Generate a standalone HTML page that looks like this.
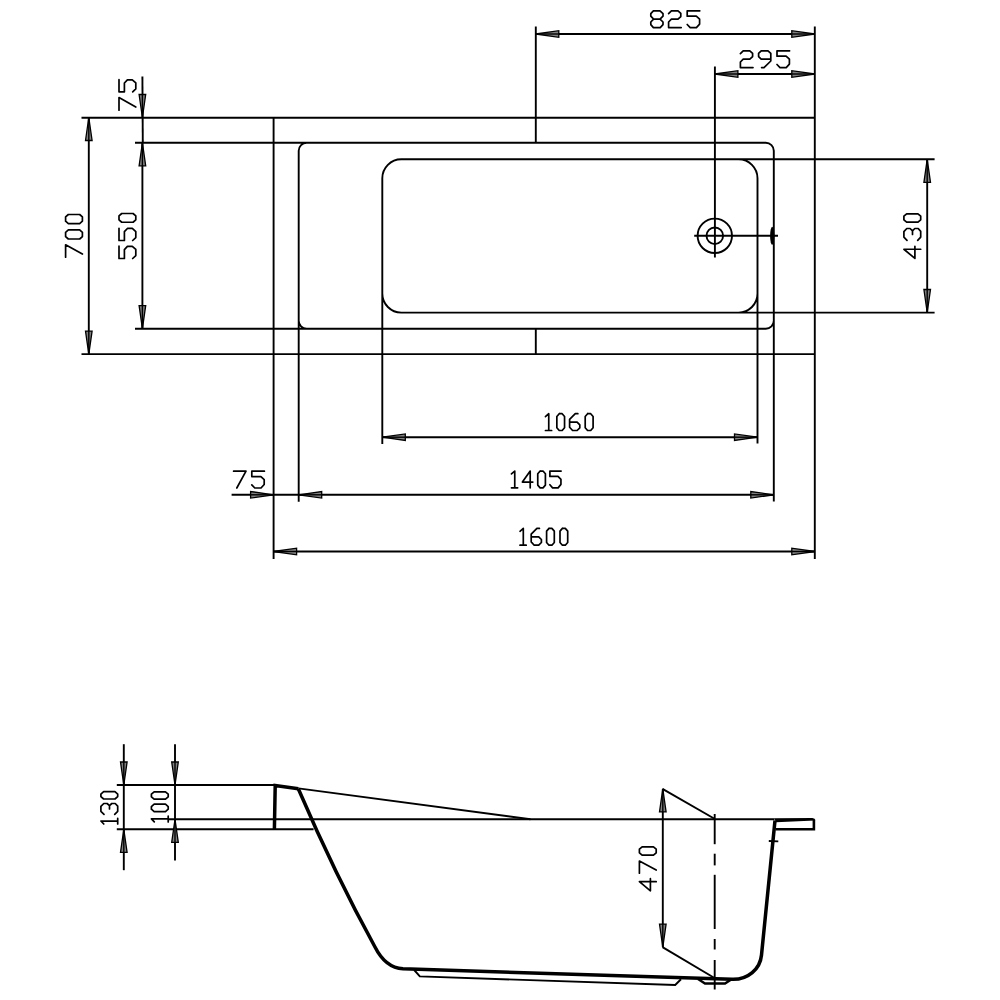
<!DOCTYPE html>
<html><head><meta charset="utf-8"><style>
html,body{margin:0;padding:0;background:#fff;width:1000px;height:1000px;overflow:hidden;font-family:"Liberation Sans",sans-serif;}
svg{display:block}
</style></head><body>
<svg width="1000" height="1000" viewBox="0 0 1000 1000">
<rect width="1000" height="1000" fill="#fff"/>
<line x1="81.5" y1="117.7" x2="814.8" y2="117.7" stroke="#000" stroke-width="1.9"/>
<line x1="81.5" y1="354.1" x2="814.8" y2="354.1" stroke="#000" stroke-width="1.9"/>
<line x1="273.6" y1="117.5" x2="273.6" y2="559" stroke="#000" stroke-width="1.9"/>
<line x1="814.8" y1="26.5" x2="814.8" y2="559" stroke="#000" stroke-width="1.9"/>
<line x1="535.8" y1="26.5" x2="535.8" y2="142.8" stroke="#000" stroke-width="1.9"/>
<line x1="535.8" y1="328.7" x2="535.8" y2="354.1" stroke="#000" stroke-width="1.9"/>
<path d="M135,142.8 H765.8 A8,8 0 0 1 773.8,150.8 V501.4 M298.7,501.8 V150.8 A8,8 0 0 1 306.7,142.8 M135,328.7 H765.8 A8,8 0 0 0 773.8,320.7 M298.7,320.7 A8,8 0 0 0 306.7,328.7" fill="none" stroke="#000" stroke-width="1.9"/>
<path d="M382.3,443.9 V178.3 A19,19 0 0 1 401.3,159.3 H934.6 M738.5,159.3 A19,19 0 0 1 757.5,178.3 V443.5 M382.3,293.6 A19,19 0 0 0 401.3,312.6 H934.6 M757.5,293.6 A19,19 0 0 1 738.5,312.6" fill="none" stroke="#000" stroke-width="1.9"/>
<circle cx="714.8" cy="235.8" r="17.2" fill="none" stroke="#000" stroke-width="1.9"/>
<circle cx="714.8" cy="235.8" r="8.3" fill="none" stroke="#000" stroke-width="1.9"/>
<line x1="694.2" y1="235.8" x2="778" y2="235.8" stroke="#000" stroke-width="1.9"/>
<line x1="714.9" y1="66.5" x2="714.9" y2="257.5" stroke="#000" stroke-width="1.9"/>
<ellipse cx="772.2" cy="235.8" rx="2.1" ry="9" fill="#000"/>
<line x1="535.8" y1="34" x2="814.8" y2="34" stroke="#000" stroke-width="1.9"/>
<polygon points="535.80,34.00 558.80,30.70 558.80,37.30" fill="#808080" stroke="#000" stroke-width="1.3" stroke-linejoin="miter"/><line x1="535.80" y1="34.00" x2="558.80" y2="34.00" stroke="#000" stroke-width="1.4"/>
<polygon points="814.80,34.00 791.80,37.30 791.80,30.70" fill="#808080" stroke="#000" stroke-width="1.3" stroke-linejoin="miter"/><line x1="814.80" y1="34.00" x2="791.80" y2="34.00" stroke="#000" stroke-width="1.4"/>
<line x1="714.9" y1="74" x2="814.8" y2="74" stroke="#000" stroke-width="1.9"/>
<polygon points="714.90,74.00 737.90,70.70 737.90,77.30" fill="#808080" stroke="#000" stroke-width="1.3" stroke-linejoin="miter"/><line x1="714.90" y1="74.00" x2="737.90" y2="74.00" stroke="#000" stroke-width="1.4"/>
<polygon points="814.80,74.00 791.80,77.30 791.80,70.70" fill="#808080" stroke="#000" stroke-width="1.3" stroke-linejoin="miter"/><line x1="814.80" y1="74.00" x2="791.80" y2="74.00" stroke="#000" stroke-width="1.4"/>
<line x1="142.4" y1="76.4" x2="142.8" y2="142.8" stroke="#000" stroke-width="1.9"/>
<polygon points="142.40,117.50 139.10,94.50 145.70,94.50" fill="#808080" stroke="#000" stroke-width="1.3" stroke-linejoin="miter"/><line x1="142.40" y1="117.50" x2="142.40" y2="94.50" stroke="#000" stroke-width="1.4"/>
<line x1="142.4" y1="142.8" x2="142.4" y2="328.7" stroke="#000" stroke-width="1.9"/>
<polygon points="142.40,142.80 145.70,165.80 139.10,165.80" fill="#808080" stroke="#000" stroke-width="1.3" stroke-linejoin="miter"/><line x1="142.40" y1="142.80" x2="142.40" y2="165.80" stroke="#000" stroke-width="1.4"/>
<polygon points="142.40,328.70 139.10,305.70 145.70,305.70" fill="#808080" stroke="#000" stroke-width="1.3" stroke-linejoin="miter"/><line x1="142.40" y1="328.70" x2="142.40" y2="305.70" stroke="#000" stroke-width="1.4"/>
<line x1="88.8" y1="117.5" x2="88.8" y2="354.1" stroke="#000" stroke-width="1.9"/>
<polygon points="88.80,117.50 92.10,140.50 85.50,140.50" fill="#808080" stroke="#000" stroke-width="1.3" stroke-linejoin="miter"/><line x1="88.80" y1="117.50" x2="88.80" y2="140.50" stroke="#000" stroke-width="1.4"/>
<polygon points="88.80,354.10 85.50,331.10 92.10,331.10" fill="#808080" stroke="#000" stroke-width="1.3" stroke-linejoin="miter"/><line x1="88.80" y1="354.10" x2="88.80" y2="331.10" stroke="#000" stroke-width="1.4"/>
<line x1="927.2" y1="159.3" x2="927.2" y2="312.5" stroke="#000" stroke-width="1.9"/>
<polygon points="927.20,159.30 930.50,182.30 923.90,182.30" fill="#808080" stroke="#000" stroke-width="1.3" stroke-linejoin="miter"/><line x1="927.20" y1="159.30" x2="927.20" y2="182.30" stroke="#000" stroke-width="1.4"/>
<polygon points="927.20,312.50 923.90,289.50 930.50,289.50" fill="#808080" stroke="#000" stroke-width="1.3" stroke-linejoin="miter"/><line x1="927.20" y1="312.50" x2="927.20" y2="289.50" stroke="#000" stroke-width="1.4"/>
<line x1="382.3" y1="437.2" x2="757.5" y2="437.2" stroke="#000" stroke-width="1.9"/>
<polygon points="382.30,437.20 405.30,433.90 405.30,440.50" fill="#808080" stroke="#000" stroke-width="1.3" stroke-linejoin="miter"/><line x1="382.30" y1="437.20" x2="405.30" y2="437.20" stroke="#000" stroke-width="1.4"/>
<polygon points="757.50,437.20 734.50,440.50 734.50,433.90" fill="#808080" stroke="#000" stroke-width="1.3" stroke-linejoin="miter"/><line x1="757.50" y1="437.20" x2="734.50" y2="437.20" stroke="#000" stroke-width="1.4"/>
<line x1="231.6" y1="494.8" x2="773.8" y2="494.8" stroke="#000" stroke-width="1.9"/>
<polygon points="298.70,494.80 321.70,491.50 321.70,498.10" fill="#808080" stroke="#000" stroke-width="1.3" stroke-linejoin="miter"/><line x1="298.70" y1="494.80" x2="321.70" y2="494.80" stroke="#000" stroke-width="1.4"/>
<polygon points="773.80,494.80 750.80,498.10 750.80,491.50" fill="#808080" stroke="#000" stroke-width="1.3" stroke-linejoin="miter"/><line x1="773.80" y1="494.80" x2="750.80" y2="494.80" stroke="#000" stroke-width="1.4"/>
<polygon points="273.60,494.80 250.60,498.10 250.60,491.50" fill="#808080" stroke="#000" stroke-width="1.3" stroke-linejoin="miter"/><line x1="273.60" y1="494.80" x2="250.60" y2="494.80" stroke="#000" stroke-width="1.4"/>
<line x1="273.6" y1="551.5" x2="814.8" y2="551.5" stroke="#000" stroke-width="1.9"/>
<polygon points="273.60,551.50 296.60,548.20 296.60,554.80" fill="#808080" stroke="#000" stroke-width="1.3" stroke-linejoin="miter"/><line x1="273.60" y1="551.50" x2="296.60" y2="551.50" stroke="#000" stroke-width="1.4"/>
<polygon points="814.80,551.50 791.80,554.80 791.80,548.20" fill="#808080" stroke="#000" stroke-width="1.3" stroke-linejoin="miter"/><line x1="814.80" y1="551.50" x2="791.80" y2="551.50" stroke="#000" stroke-width="1.4"/>
<path d="M653.40,10.80 L660.00,10.80 L663.00,13.60 L663.00,16.20 L660.00,19.20 L653.60,19.20 L650.80,16.20 L650.80,13.60 L653.40,10.80 M653.60,19.20 L650.80,22.00 L650.80,24.60 L653.40,27.60 L660.20,27.60 L663.00,24.60 L663.00,22.00 L660.00,19.20 M668.60,13.60 L671.40,10.80 L678.00,10.80 L680.80,13.40 L680.80,16.60 L678.00,19.20 L671.40,19.20 L668.60,22.00 L668.60,27.60 L681.20,27.60 M699.80,10.80 L687.20,10.80 L687.20,16.20 L696.30,16.20 L699.60,19.20 L699.60,24.10 L696.40,27.60 L690.20,27.60 L687.20,24.50" fill="none" stroke="#000" stroke-width="1.7" stroke-linejoin="round" stroke-linecap="round"/>
<path d="M740.40,53.60 L743.20,50.80 L749.80,50.80 L752.60,53.40 L752.60,56.60 L749.80,59.20 L743.20,59.20 L740.40,62.00 L740.40,67.60 L753.00,67.60 M770.80,59.20 L761.20,59.20 L758.60,56.60 L758.60,53.40 L761.20,50.80 L768.00,50.80 L770.80,53.40 L770.80,61.00 L764.00,67.60 L761.60,67.60 M789.60,50.80 L777.00,50.80 L777.00,56.20 L786.10,56.20 L789.40,59.20 L789.40,64.10 L786.20,67.60 L780.00,67.60 L777.00,64.50" fill="none" stroke="#000" stroke-width="1.7" stroke-linejoin="round" stroke-linecap="round"/>
<path d="M545.45,416.60 L548.75,413.70 L548.75,430.50 M545.45,430.50 L551.65,430.50 M559.25,413.70 L562.15,413.70 L564.55,416.45 L564.55,427.75 L562.15,430.50 L559.25,430.50 L556.85,427.75 L556.85,416.45 L559.25,413.70 M577.85,413.70 L575.30,413.70 L569.60,419.40 L569.60,427.20 L572.60,430.50 L577.10,430.50 L579.80,427.80 L579.80,424.80 L577.10,422.10 L569.60,422.10 M587.60,413.70 L590.70,413.70 L593.10,416.45 L593.10,427.75 L590.70,430.50 L587.60,430.50 L585.20,427.75 L585.20,416.45 L587.60,413.70" fill="none" stroke="#000" stroke-width="1.7" stroke-linejoin="round" stroke-linecap="round"/>
<path d="M511.45,473.95 L514.75,471.05 L514.75,487.85 M511.45,487.85 L517.65,487.85 M530.20,487.85 L530.20,471.05 L522.40,482.05 L532.80,482.05 M540.15,471.05 L543.00,471.05 L545.40,473.80 L545.40,485.10 L543.00,487.85 L540.15,487.85 L537.75,485.10 L537.75,473.80 L540.15,471.05 M561.11,471.05 L549.90,471.05 L549.90,476.45 L558.00,476.45 L560.94,479.45 L560.94,484.35 L558.09,487.85 L552.57,487.85 L549.90,484.75" fill="none" stroke="#000" stroke-width="1.7" stroke-linejoin="round" stroke-linecap="round"/>
<path d="M520.00,531.30 L523.30,528.40 L523.30,545.20 M520.00,545.20 L526.20,545.20 M539.45,528.40 L536.90,528.40 L531.20,534.10 L531.20,541.90 L534.20,545.20 L538.70,545.20 L541.40,542.50 L541.40,539.50 L538.70,536.80 L531.20,536.80 M549.00,528.40 L551.90,528.40 L554.30,531.15 L554.30,542.45 L551.90,545.20 L549.00,545.20 L546.60,542.45 L546.60,531.15 L549.00,528.40 M562.40,528.40 L565.30,528.40 L567.70,531.15 L567.70,542.45 L565.30,545.20 L562.40,545.20 L560.00,542.45 L560.00,531.15 L562.40,528.40" fill="none" stroke="#000" stroke-width="1.7" stroke-linejoin="round" stroke-linecap="round"/>
<path d="M233.60,471.20 L246.00,471.20 L236.80,488.00 M264.40,471.20 L251.80,471.20 L251.80,476.60 L260.90,476.60 L264.20,479.60 L264.20,484.50 L261.00,488.00 L254.80,488.00 L251.80,484.90" fill="none" stroke="#000" stroke-width="1.7" stroke-linejoin="round" stroke-linecap="round"/>
<path d="M119.00,110.25 L119.00,97.60 L135.80,106.99 M119.00,79.63 L119.00,91.85 L124.40,91.85 L124.40,83.02 L127.40,79.82 L132.30,79.82 L135.80,82.93 L135.80,88.94 L132.70,91.85" fill="none" stroke="#000" stroke-width="1.7" stroke-linejoin="round" stroke-linecap="round"/>
<path d="M119.00,246.15 L119.00,258.50 L124.40,258.50 L124.40,249.58 L127.40,246.35 L132.30,246.35 L135.80,249.48 L135.80,255.56 L132.70,258.50 M119.00,228.28 L119.00,240.50 L124.40,240.50 L124.40,231.67 L127.40,228.47 L132.30,228.47 L135.80,231.58 L135.80,237.59 L132.70,240.50 M119.00,219.85 L119.00,215.90 L121.75,213.50 L133.05,213.50 L135.80,215.90 L135.80,219.85 L133.05,222.25 L121.75,222.25 L119.00,219.85" fill="none" stroke="#000" stroke-width="1.7" stroke-linejoin="round" stroke-linecap="round"/>
<path d="M65.60,257.20 L65.60,244.80 L82.40,254.00 M65.60,236.60 L65.60,232.30 L68.35,229.90 L79.65,229.90 L82.40,232.30 L82.40,236.60 L79.65,239.00 L68.35,239.00 L65.60,236.60 M65.60,221.20 L65.60,216.90 L68.35,214.50 L79.65,214.50 L82.40,216.90 L82.40,221.20 L79.65,223.60 L68.35,223.60 L65.60,221.20" fill="none" stroke="#000" stroke-width="1.7" stroke-linejoin="round" stroke-linecap="round"/>
<path d="M920.70,249.27 L903.90,249.27 L914.90,258.40 L914.90,246.23 M907.00,240.30 L903.90,237.10 L903.90,231.60 L906.80,228.50 L910.10,228.50 L912.50,230.80 L912.50,234.50 M912.50,230.80 L914.80,228.50 L918.20,228.50 L920.70,231.40 L920.70,237.10 L917.70,240.30 M903.90,219.80 L903.90,216.20 L906.65,213.80 L917.95,213.80 L920.70,216.20 L920.70,219.80 L917.95,222.20 L906.65,222.20 L903.90,219.80" fill="none" stroke="#000" stroke-width="1.7" stroke-linejoin="round" stroke-linecap="round"/>
<line x1="116.8" y1="785" x2="276" y2="785" stroke="#000" stroke-width="1.9"/>
<line x1="168" y1="819.3" x2="774.5" y2="819.3" stroke="#000" stroke-width="1.9"/>
<line x1="116.8" y1="829.3" x2="313.6" y2="829.3" stroke="#000" stroke-width="1.9"/>
<line x1="298.4" y1="788.4" x2="530.5" y2="819.3" stroke="#000" stroke-width="1.9"/>
<path d="M274.4,829.3 L275.2,785.6 L298.4,788.8" fill="none" stroke="#000" stroke-width="3.5" stroke-linejoin="miter"/>
<path d="M298.4,789 Q335.3,874.8 375,947 Q385.5,967.8 403,968.8 L732,979.3 C748,979.8 760.2,969 761.5,955 L775,820.5" fill="none" stroke="#000" stroke-width="3.5" stroke-linejoin="round"/>
<polygon points="774.2,818.2 812.3,818.0 814.6,818.7 815.2,820.6 776.0,822.3" fill="#000"/>
<path d="M813.9,819.6 V829.3 H775.6" fill="none" stroke="#000" stroke-width="2.6"/>
<line x1="768.8" y1="841" x2="778.3" y2="841.4" stroke="#000" stroke-width="1.9"/>
<path d="M414.2,970 L419.8,976.4 L675.2,985 L681,979.3" fill="none" stroke="#000" stroke-width="1.9"/>
<path d="M698,979 L705,983.5 H725 L732,979" fill="none" stroke="#000" stroke-width="2.4"/>
<line x1="714.7" y1="814" x2="714.7" y2="844.2" stroke="#000" stroke-width="1.9"/>
<line x1="714.7" y1="853.7" x2="714.7" y2="865.4" stroke="#000" stroke-width="1.9"/>
<line x1="714.7" y1="874.8" x2="714.7" y2="929" stroke="#000" stroke-width="1.9"/>
<line x1="714.7" y1="939" x2="714.7" y2="949.5" stroke="#000" stroke-width="1.9"/>
<line x1="714.7" y1="960" x2="714.7" y2="989.5" stroke="#000" stroke-width="1.9"/>
<line x1="662.8" y1="788.9" x2="662.8" y2="947.1" stroke="#000" stroke-width="1.9"/>
<polygon points="662.80,788.90 666.10,811.90 659.50,811.90" fill="#808080" stroke="#000" stroke-width="1.3" stroke-linejoin="miter"/><line x1="662.80" y1="788.90" x2="662.80" y2="811.90" stroke="#000" stroke-width="1.4"/>
<polygon points="662.80,947.10 659.50,924.10 666.10,924.10" fill="#808080" stroke="#000" stroke-width="1.3" stroke-linejoin="miter"/><line x1="662.80" y1="947.10" x2="662.80" y2="924.10" stroke="#000" stroke-width="1.4"/>
<line x1="662.5" y1="788.9" x2="714.5" y2="818.8" stroke="#000" stroke-width="1.9"/>
<line x1="662.5" y1="947.1" x2="714.5" y2="978.0" stroke="#000" stroke-width="1.9"/>
<line x1="123.8" y1="744.2" x2="123.8" y2="870.2" stroke="#000" stroke-width="1.9"/>
<polygon points="123.80,785.00 120.50,762.00 127.10,762.00" fill="#808080" stroke="#000" stroke-width="1.3" stroke-linejoin="miter"/><line x1="123.80" y1="785.00" x2="123.80" y2="762.00" stroke="#000" stroke-width="1.4"/>
<polygon points="123.80,829.30 127.10,852.30 120.50,852.30" fill="#808080" stroke="#000" stroke-width="1.3" stroke-linejoin="miter"/><line x1="123.80" y1="829.30" x2="123.80" y2="852.30" stroke="#000" stroke-width="1.4"/>
<line x1="175" y1="744.2" x2="175" y2="860.4" stroke="#000" stroke-width="1.9"/>
<polygon points="175.00,785.00 171.70,762.00 178.30,762.00" fill="#808080" stroke="#000" stroke-width="1.3" stroke-linejoin="miter"/><line x1="175.00" y1="785.00" x2="175.00" y2="762.00" stroke="#000" stroke-width="1.4"/>
<polygon points="175.00,819.30 178.30,842.30 171.70,842.30" fill="#808080" stroke="#000" stroke-width="1.3" stroke-linejoin="miter"/><line x1="175.00" y1="819.30" x2="175.00" y2="842.30" stroke="#000" stroke-width="1.4"/>
<path d="M103.80,824.00 L100.90,821.03 L117.70,821.03 M117.70,824.00 L117.70,818.42 M104.00,814.30 L100.90,811.37 L100.90,806.34 L103.80,803.50 L107.10,803.50 L109.50,805.61 L109.50,808.99 M109.50,805.61 L111.80,803.50 L115.20,803.50 L117.70,806.16 L117.70,811.37 L114.70,814.30 M100.90,796.60 L100.90,794.10 L103.65,791.70 L114.95,791.70 L117.70,794.10 L117.70,796.60 L114.95,799.00 L103.65,799.00 L100.90,796.60" fill="none" stroke="#000" stroke-width="1.7" stroke-linejoin="round" stroke-linecap="round"/>
<path d="M154.30,821.90 L151.40,818.86 L168.20,818.86 M168.20,821.90 L168.20,816.20 M151.40,809.20 L151.40,806.60 L154.15,804.20 L165.45,804.20 L168.20,806.60 L168.20,809.20 L165.45,811.60 L154.15,811.60 L151.40,809.20 M151.40,796.80 L151.40,794.20 L154.15,791.80 L165.45,791.80 L168.20,794.20 L168.20,796.80 L165.45,799.20 L154.15,799.20 L151.40,796.80" fill="none" stroke="#000" stroke-width="1.7" stroke-linejoin="round" stroke-linecap="round"/>
<path d="M656.20,881.67 L639.40,881.67 L650.40,890.80 L650.40,878.63 M639.40,873.20 L639.40,861.05 L656.20,870.06 M639.40,852.80 L639.40,849.20 L642.15,846.80 L653.45,846.80 L656.20,849.20 L656.20,852.80 L653.45,855.20 L642.15,855.20 L639.40,852.80" fill="none" stroke="#000" stroke-width="1.7" stroke-linejoin="round" stroke-linecap="round"/>
</svg>
</body></html>
